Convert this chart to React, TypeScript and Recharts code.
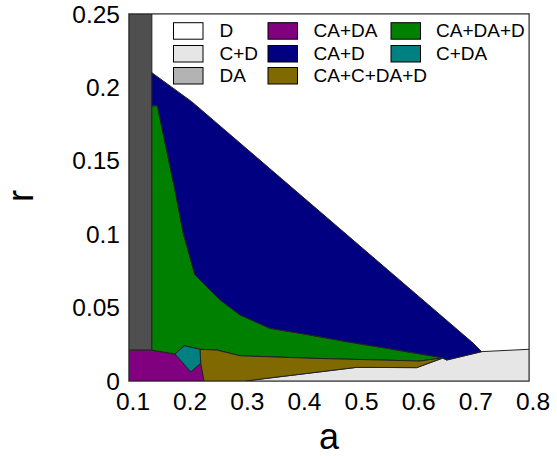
import React from 'react';
import { ComposedChart, Scatter, XAxis, YAxis, ReferenceArea, Legend, Label } from 'recharts';

const FONT = '"Liberation Sans", Arial, Helvetica, sans-serif';

const xTicks = [0.1, 0.2, 0.3, 0.4, 0.5, 0.6, 0.7, 0.8];
const yTicks = [0, 0.05, 0.1, 0.15, 0.2, 0.25];

type Pt = { a: number; r: number };
const P = (a: number, r: number): Pt => ({ a, r });

// Phase regions (polygon vertices in (a, r) data space)
const regionD: Pt[] = [P(0.1, 0), P(0.1, 0.25), P(0.8, 0.25), P(0.8, 0), P(0.1, 0)];
const regionCD: Pt[] = [
  P(0.303, 0), P(0.4985, 0.0093), P(0.6035, 0.0091), P(0.649, 0.0155), P(0.656, 0.0143),
  P(0.7172, 0.02), P(0.8, 0.0216), P(0.8, 0), P(0.303, 0),
];
const regionDA: Pt[] = [P(0.1, 0.021), P(0.1, 0.25), P(0.14, 0.25), P(0.14, 0.021), P(0.1, 0.021)];
const regionCADA: Pt[] = [
  P(0.1, 0), P(0.1, 0.021), P(0.14, 0.021), P(0.1805, 0.0184), P(0.208, 0.0063),
  P(0.2255, 0.0121), P(0.2313, 0), P(0.1, 0),
];
const regionCADAD: Pt[] = [
  P(0.14, 0.1875), P(0.1496, 0.1875), P(0.1805, 0.1301), P(0.195, 0.1006), P(0.2155, 0.0722),
  P(0.2593, 0.0552), P(0.2943, 0.045), P(0.3468, 0.0359), P(0.4168, 0.0313), P(0.481, 0.0268),
  P(0.551, 0.0223), P(0.649, 0.0158), P(0.6093, 0.0136), P(0.4168, 0.0155), P(0.2943, 0.0172),
  P(0.2535, 0.0211), P(0.2243, 0.0216), P(0.1968, 0.024), P(0.1805, 0.0184), P(0.14, 0.021),
  P(0.14, 0.1875),
];
const regionCAD: Pt[] = [
  P(0.14, 0.21), P(0.2097, 0.1903), P(0.7025, 0.0257), P(0.7172, 0.02), P(0.656, 0.0143),
  P(0.649, 0.0158), P(0.551, 0.0223), P(0.481, 0.0268), P(0.4168, 0.0313), P(0.3468, 0.0359),
  P(0.2943, 0.045), P(0.2593, 0.0552), P(0.2155, 0.0722), P(0.195, 0.1006), P(0.1805, 0.1301),
  P(0.1496, 0.1875), P(0.14, 0.1875), P(0.14, 0.21),
];
const regionCACDAD: Pt[] = [
  P(0.2243, 0.0216), P(0.2535, 0.0211), P(0.2943, 0.0172), P(0.4168, 0.0155), P(0.6093, 0.0136),
  P(0.649, 0.0158), P(0.6035, 0.0091), P(0.4985, 0.0093), P(0.303, 0), P(0.2313, 0),
  P(0.2255, 0.0121), P(0.2243, 0.0216),
];
const regionCDA: Pt[] = [
  P(0.1805, 0.0184), P(0.1968, 0.024), P(0.2243, 0.0216), P(0.2255, 0.0121), P(0.208, 0.0063),
  P(0.1805, 0.0184),
];

const legendNames = ['D', 'C+D', 'DA', 'CA+DA', 'CA+D', 'CA+C+DA+D', 'CA+DA+D', 'C+DA'];
const legendColors = ['#ffffff', '#e6e6e6', '#b3b3b3', '#800080', '#000080', '#806a00', '#008000', '#008080'];

const regions: { name: string; data: Pt[]; color: string }[] = [
  { name: 'D', data: regionD, color: '#ffffff' },
  { name: 'C+D', data: regionCD, color: '#e6e6e6' },
  { name: 'DA', data: regionDA, color: '#4f4f4f' },
  { name: 'CA+DA', data: regionCADA, color: '#800080' },
  { name: 'CA+DA+D', data: regionCADAD, color: '#008000' },
  { name: 'CA+D', data: regionCAD, color: '#000080' },
  { name: 'CA+C+DA+D', data: regionCACDAD, color: '#806a00' },
  { name: 'C+DA', data: regionCDA, color: '#008080' },
];

const noShape = () => <g />;

const colX = [173.5, 268, 391];
const textX = [219.5, 313.5, 436];
const rowY = [22.7, 45.5, 67.5];

const LegendBox = () => (
  <svg width={557} height={100} style={{ display: 'block' }}>
    {legendNames.map((n, i) => {
      const c = Math.floor(i / 3);
      const r = i % 3;
      return (
        <g key={n}>
          <rect x={colX[c]} y={rowY[r]} width={29.5} height={16.5} fill={legendColors[i]} stroke="#000" strokeWidth={1} />
          <text x={textX[c]} y={rowY[r] + 14} fontSize={19} fontFamily={FONT} fill="#000">{n}</text>
        </g>
      );
    })}
  </svg>
);

const YLabel = (props: any) => {
  const vb = props.viewBox || { x: 0, y: 14, width: 129, height: 367 };
  const cx = vb.x + 33;
  const cy = vb.y + vb.height / 2 - 1.5;
  return (
    <text x={cx} y={cy} transform={`rotate(-90 ${cx} ${cy})`} textAnchor="middle" fontSize={36} fontFamily={FONT} fill="#000">
      r
    </text>
  );
};

export default function App() {
  return (
    <div style={{ position: 'absolute', left: 0, top: 0, width: 557, height: 456, background: '#fff' }}>
      <ComposedChart width={557} height={456} margin={{ top: 14, right: 28, bottom: 0, left: 0 }}>
        <XAxis
          dataKey="a"
          type="number"
          domain={[0.1, 0.8]}
          ticks={xTicks}
          allowDataOverflow
          height={75}
          tickSize={0}
          tickMargin={12}
          axisLine={false}
          tick={{ fill: '#000', fontSize: 24.5, fontFamily: FONT, dx: 4 }}
          interval={0}
        >
          <Label value="a" position="insideBottom" offset={7} style={{ fontSize: 36, fontFamily: FONT, fill: '#000' }} />
        </XAxis>
        <YAxis
          dataKey="r"
          type="number"
          domain={[0, 0.25]}
          ticks={yTicks}
          allowDataOverflow
          width={129}
          tickSize={0}
          tickMargin={9}
          axisLine={false}
          tick={{ fill: '#000', fontSize: 24.5, fontFamily: FONT }}
          interval={0}
          label={{ content: YLabel }}
        />
        {regions.map((g) => (
          <Scatter
            key={g.name}
            name={g.name}
            data={g.data}
            dataKey="r"
            fill={g.color}
            shape={noShape}
            line={{ fill: g.color, stroke: '#222', strokeWidth: 1 }}
            lineType="joint"
            lineJointType="linear"
            isAnimationActive={false}
          />
        ))}
        <ReferenceArea x1={0.1} x2={0.8} y1={0} y2={0.25} fill="none" fillOpacity={0} stroke="#333" strokeWidth={1.5} />
        <Legend
          layout="vertical"
          align="center"
          verticalAlign="middle"
          content={<LegendBox />}
          wrapperStyle={{ position: 'absolute', left: 0, top: 0, width: 557, height: 100 }}
        />
      </ComposedChart>
    </div>
  );
}
